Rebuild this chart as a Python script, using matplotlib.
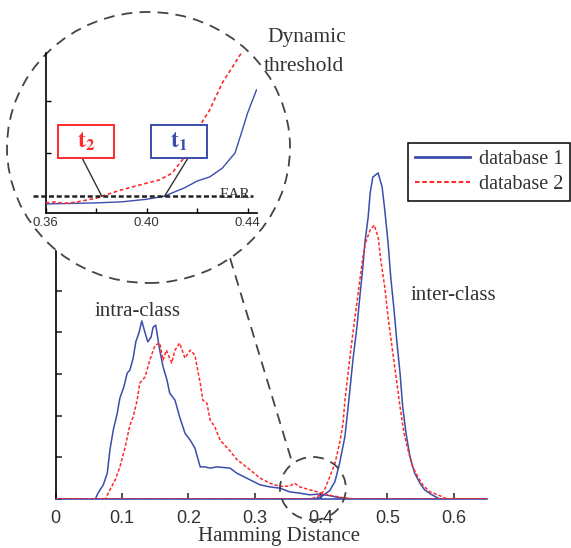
import matplotlib
matplotlib.use("Agg")
import matplotlib.pyplot as plt
from matplotlib.patches import Ellipse, Rectangle
from matplotlib.lines import Line2D

plt.rcParams['font.family'] = ['Liberation Serif', 'DejaVu Serif']
plt.rcParams['mathtext.fontset'] = 'stix'

# ---------------- data ----------------
BLUE = '#3b4dab'
RED = '#ff2a2a'

b_intra_x = [0.0, 0.060, 0.064, 0.072, 0.078, 0.082, 0.087, 0.093, 0.097, 0.103, 0.108, 0.112, 0.117,
             0.121, 0.126, 0.130, 0.135, 0.139, 0.144, 0.147, 0.151, 0.157, 0.162, 0.168, 0.172, 0.180,
             0.187, 0.195, 0.203, 0.210, 0.218, 0.225, 0.233, 0.243, 0.263, 0.273, 0.293, 0.308, 0.323,
             0.338, 0.353, 0.368, 0.383, 0.398, 0.413, 0.425, 0.440, 0.650]
b_intra_y = [0, 0, 0.14, 0.34, 0.62, 1.18, 1.65, 2.06, 2.42, 2.69, 3.02, 3.09, 3.38,
             3.77, 4.00, 4.27, 3.98, 3.77, 3.88, 4.12, 4.17, 3.57, 3.17, 2.85, 2.54, 2.37,
             1.97, 1.58, 1.41, 1.22, 0.77, 0.77, 0.74, 0.77, 0.74, 0.62, 0.46, 0.34, 0.29,
             0.26, 0.17, 0.14, 0.10, 0.12, 0.08, 0.04, 0.0, 0.0]

b_inter_x = [0.0, 0.390, 0.400, 0.413, 0.421, 0.428, 0.436, 0.443, 0.448, 0.454, 0.459, 0.463, 0.466,
             0.471, 0.474, 0.478, 0.486, 0.492, 0.496, 0.501, 0.505, 0.510, 0.514, 0.519, 0.523,
             0.528, 0.534, 0.541, 0.549, 0.556, 0.567, 0.579, 0.650]
b_inter_y = [0, 0, 0.05, 0.20, 0.42, 0.86, 1.50, 2.54, 3.33, 4.12, 4.94, 5.56, 6.14,
             6.76, 7.34, 7.72, 7.82, 7.48, 6.93, 6.14, 5.32, 4.53, 3.81, 3.02, 2.21,
             1.58, 1.01, 0.62, 0.38, 0.22, 0.10, 0.0, 0.0]

r_intra_x = [0.0, 0.075, 0.082, 0.090, 0.097, 0.105, 0.112, 0.117, 0.123, 0.127, 0.135, 0.142, 0.150,
             0.157, 0.162, 0.167, 0.175, 0.180, 0.187, 0.195, 0.203, 0.210, 0.215, 0.218, 0.222,
             0.228, 0.233, 0.240, 0.248, 0.263, 0.273, 0.293, 0.308, 0.323, 0.338, 0.353, 0.360,
             0.368, 0.383, 0.395, 0.410, 0.430, 0.450, 0.650]
r_intra_y = [0, 0, 0.22, 0.46, 0.77, 1.25, 1.77, 1.97, 2.37, 2.78, 2.93, 3.33, 3.69,
             3.74, 3.33, 3.57, 3.26, 3.57, 3.74, 3.38, 3.57, 3.45, 3.02, 2.78, 2.37,
             2.30, 1.89, 1.73, 1.41, 1.15, 0.95, 0.70, 0.50, 0.38, 0.30, 0.31, 0.38,
             0.29, 0.22, 0.17, 0.10, 0.04, 0.0, 0.0]

r_inter_x = [0.0, 0.385, 0.400, 0.406, 0.413, 0.421, 0.428, 0.433, 0.436, 0.443, 0.448, 0.454, 0.459,
             0.463, 0.467, 0.474, 0.480, 0.486, 0.490, 0.496, 0.501, 0.507, 0.513, 0.519, 0.525,
             0.531, 0.538, 0.546, 0.553, 0.564, 0.576, 0.587, 0.594, 0.650]
r_inter_y = [0, 0, 0.10, 0.25, 0.53, 0.86, 1.34, 1.80, 2.37, 3.33, 3.98, 4.70, 5.32,
             5.80, 6.14, 6.45, 6.57, 6.28, 5.73, 5.08, 4.36, 3.64, 2.93, 2.21, 1.58,
             1.18, 0.77, 0.53, 0.34, 0.17, 0.10, 0.02, 0.0, 0.0]

# inset (zoom of the overlap region)
in_b_x = [0.360, 0.370, 0.380, 0.390, 0.400, 0.4071, 0.410, 0.415, 0.420, 0.425, 0.430, 0.435,
          0.4375, 0.440, 0.4435]
in_b_y = [0.02, 0.03, 0.04, 0.06, 0.11, 0.17, 0.23, 0.33, 0.46, 0.54, 0.71, 1.00,
          1.38, 1.77, 2.21]
in_r_x = [0.360, 0.3636, 0.367, 0.3715, 0.380, 0.3822, 0.390, 0.400, 0.405, 0.410, 0.415, 0.420,
          0.425, 0.430, 0.4375]
in_r_y = [0.04, 0.06, 0.03, 0.05, 0.13, 0.17, 0.29, 0.42, 0.48, 0.61, 0.92, 1.44,
          1.83, 2.35, 2.92]
ear_level = 0.17
t2_pos = 0.3822
t1_pos = 0.4071

main_xticks = [0, 0.1, 0.2, 0.3, 0.4, 0.5, 0.6]
main_xticklabels = ['0', '0.1', '0.2', '0.3', '0.4', '0.5', '0.6']
inset_xticks = [0.36, 0.38, 0.40, 0.42, 0.44]
inset_xticklabels = ['0.36', '', '0.40', '', '0.44']

W, H = 571, 548
fig = plt.figure(figsize=(W / 100, H / 100), dpi=100)


def fx(px):
    return px / W


def fy(py):
    return 1 - py / H


# ---------------- main axes ----------------
ax = fig.add_axes([fx(55.5), fy(499), fx(487) - fx(55.5), 8.4 * 41.7 / H])
ax.set_xlim(0, 0.65)
ax.set_ylim(0, 8.4)
dash_style = (0, (2.2, 1.3))
ax.plot(b_intra_x, b_intra_y, color=BLUE, lw=1.1, zorder=3)
ax.plot(b_inter_x, b_inter_y, color=BLUE, lw=1.1, zorder=3)
ax.plot(r_intra_x, r_intra_y, color=RED, lw=1.1, ls=dash_style, zorder=4)
ax.plot(r_inter_x, r_inter_y, color=RED, lw=1.1, ls=dash_style, zorder=4)

for s in ['top', 'right']:
    ax.spines[s].set_visible(False)
ax.spines['left'].set_linewidth(1.2)
ax.spines['bottom'].set_linewidth(1.2)
ax.spines['bottom'].set_color(BLUE)
ax.set_xticks(main_xticks)
ax.set_xticklabels(main_xticklabels, fontfamily='Liberation Sans', fontsize=13, color='#333333')
ax.set_yticks(range(0, 9))
ax.set_yticklabels([])
ax.tick_params(direction='in', length=4, width=1.1, color='#222222', pad=8)

ax.text(0.1235, 4.5, 'intra-class', fontsize=15, color='#333333', ha='center', va='center')
ax.text(0.600, 4.89, 'inter-class', fontsize=15, color='#333333', ha='center', va='center')
fig.text(fx(279), fy(537), 'Hamming Distance', fontsize=15, color='#333333', ha='center', va='center')

# small highlight circle around overlap region
ax.add_patch(Ellipse((0.3878, 0.252), 0.0994, 1.511, facecolor='none', edgecolor='#444444',
                     lw=1.3, ls=(0, (6, 4)), clip_on=False, zorder=6))

handles = [Line2D([], [], color=BLUE, lw=2.0),
           Line2D([], [], color=RED, lw=1.5, ls=(0, (2.2, 1.3)))]
leg = ax.legend(handles, ['database 1', 'database 2'], loc='upper right',
                bbox_to_anchor=(fx(570), fy(143)), bbox_transform=fig.transFigure,
                borderaxespad=0, fancybox=False, edgecolor='black', fontsize=14.5,
                handlelength=2.7, handletextpad=0.45, labelspacing=0.3, borderpad=0.35,
                framealpha=1)
leg.get_frame().set_linewidth(1.1)
for t in leg.get_texts():
    t.set_color('#333333')

# ---------------- big circle + connector ----------------
big = Ellipse((fx(148.5), fy(147.5)), 283 / W, 271 / H, transform=fig.transFigure,
              facecolor='white', edgecolor='#444444', lw=1.3, ls=(0, (6, 4)), zorder=1)
fig.patches.append(big)
conn = Line2D([fx(230), fx(292)], [fy(258), fy(462)], transform=fig.transFigure,
              color='#444444', lw=1.3, ls=(0, (6, 4)), zorder=1)
fig.lines.append(conn)

fig.text(fx(307), fy(42), 'Dynamic', fontsize=15.5, color='#333333', ha='center', va='baseline')
fig.text(fx(304), fy(71), 'threshold', fontsize=15.5, color='#333333', ha='center', va='baseline')

# ---------------- inset axes ----------------
ins = fig.add_axes([fx(45.7), fy(213), fx(257) - fx(45.7), 160 / H])
ins.set_zorder(3)
ins.set_facecolor('none')
ins.set_xlim(0.36, 0.4437)
ins.set_ylim(-0.154, 2.92)
ins.plot(in_b_x, in_b_y, color=BLUE, lw=1.0, zorder=3)
ins.plot(in_r_x, in_r_y, color=RED, lw=1.2, ls=(0, (2.2, 1.6)), zorder=4)
for s in ['top', 'right']:
    ins.spines[s].set_visible(False)
ins.spines['left'].set_linewidth(1.2)
ins.spines['bottom'].set_linewidth(1.2)
ins.set_xticks(inset_xticks)
ins.set_xticklabels(inset_xticklabels, fontfamily='Liberation Sans', fontsize=9.5, color='#333333')
ins.set_yticks([1, 2])
ins.set_yticklabels([])
ins.tick_params(direction='in', length=3.5, width=1.0, pad=3)

ins.plot([0.355, 0.442], [ear_level, ear_level], color='#222222', lw=1.8, ls=(0, (2, 1.1)),
         clip_on=False, zorder=5)
ins.text(0.4290, 0.14, 'EAR', fontsize=11, color='#333333', ha='left', va='baseline', zorder=6)

# t2 / t1 callouts
ins.add_patch(Rectangle((0.3649, 0.904), 0.0221, 0.634, facecolor='white', edgecolor=RED,
                        lw=1.4, zorder=6))
ins.text(0.3760, 1.22, r'$\mathbf{t_2}$', fontsize=17, color=RED, ha='center', va='center', zorder=7)
ins.plot([0.3744, t2_pos], [0.904, ear_level], color='#333333', lw=1.0, zorder=5)

ins.add_patch(Rectangle((0.4017, 0.904), 0.0221, 0.634, facecolor='white', edgecolor=BLUE,
                        lw=1.4, zorder=6))
ins.text(0.4128, 1.22, r'$\mathbf{t_1}$', fontsize=17, color=BLUE, ha='center', va='center', zorder=7)
ins.plot([0.4164, t1_pos], [0.904, ear_level], color='#333333', lw=1.0, zorder=5)

fig.savefig('out.png', dpi=100)
